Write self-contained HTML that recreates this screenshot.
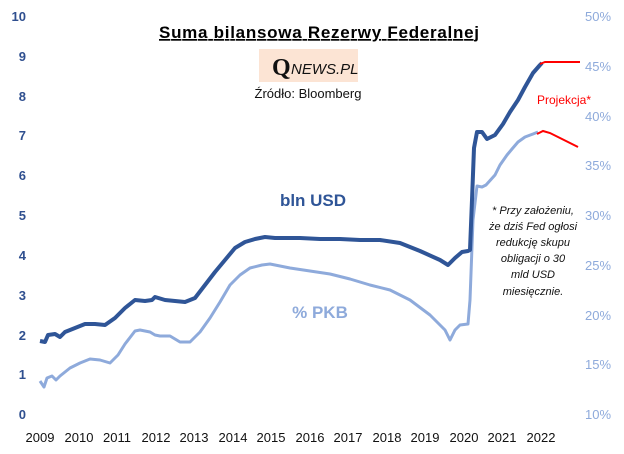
<!DOCTYPE html>
<html><head><meta charset="utf-8"><style>
body{margin:0;background:#fff}
svg{display:block;font-family:"Liberation Sans",sans-serif}
</style></head><body>
<svg width="624" height="454" viewBox="0 0 624 454">
<rect width="624" height="454" fill="#fff"/>
<text x="319" y="38" text-anchor="middle" font-size="17" font-weight="bold" text-decoration="underline" textLength="320">Suma bilansowa  Rezerwy Federalnej</text>
<rect x="259" y="49" width="99" height="33" fill="#fce4d4"/>
<text x="272" y="75" font-family="Liberation Serif,serif" font-size="24" font-weight="bold" fill="#111">Q</text>
<text x="291" y="74" font-size="15" font-style="italic" fill="#111">NEWS.PL</text>
<text x="308" y="98" text-anchor="middle" font-size="13" fill="#111">Źródło: Bloomberg</text>
<g font-size="13" font-weight="bold" fill="#2f4f8f" text-anchor="end">
<text x="26" y="21">10</text><text x="26" y="61">9</text><text x="26" y="101">8</text><text x="26" y="140">7</text><text x="26" y="180">6</text><text x="26" y="220">5</text><text x="26" y="260">4</text><text x="26" y="300">3</text><text x="26" y="340">2</text><text x="26" y="379">1</text><text x="26" y="419">0</text>
</g>
<g font-size="13" fill="#8eaadb" text-anchor="start">
<text x="585" y="21">50%</text><text x="585" y="71">45%</text><text x="585" y="121">40%</text><text x="585" y="170">35%</text><text x="585" y="220">30%</text><text x="585" y="270">25%</text><text x="585" y="320">20%</text><text x="585" y="369">15%</text><text x="585" y="419">10%</text>
</g>
<g font-size="13" fill="#111" text-anchor="middle">
<text x="40" y="442">2009</text><text x="79" y="442">2010</text><text x="117" y="442">2011</text><text x="156" y="442">2012</text><text x="194" y="442">2013</text><text x="233" y="442">2014</text><text x="271" y="442">2015</text><text x="310" y="442">2016</text><text x="348" y="442">2017</text><text x="387" y="442">2018</text><text x="425" y="442">2019</text><text x="464" y="442">2020</text><text x="502" y="442">2021</text><text x="541" y="442">2022</text>
</g>
<polyline fill="none" stroke="#8eaadb" stroke-width="3" stroke-linejoin="round" points="40,381 44,387 47,378 52,376 56,380 60,376 70,368 80,363 90,359 100,360 110,363 118,355 125,344 135,331 140,330 150,332 155,335 160,336 170,336 180,342 190,342 200,332 210,318 220,302 230,285 240,275 250,268 262,265 270,264 280,266 290,268 310,271 330,274 350,279 370,285 390,290 410,300 430,315 445,330 450,340 455,330 460,325 468,324 470,300 473,220 477,186 482,187 486,185 495,175 500,165 507,155 512,149 518,142 525,137 533,134 538,132"/>
<polyline fill="none" stroke="#2f5597" stroke-width="4" stroke-linejoin="round" points="40,341 45,342 48,335 55,334 60,337 65,332 75,328 85,324 95,324 105,325 115,318 125,308 135,300 145,301 152,300 155,297 165,300 175,301 185,302 195,298 205,285 215,272 225,260 235,248 245,242 255,239 265,237 275,238 285,238 300,238 320,239 340,239 360,240 380,240 400,243 420,251 440,260 448,265 455,258 462,252 468,251 470,250 472,200 474,148 477,132 482,132 487,139 495,135 503,124 510,112 518,100 525,87 533,73 540,65 542,63"/>
<polyline fill="none" stroke="#ff0000" stroke-width="2" points="540,64 545,62 580,62"/>
<polyline fill="none" stroke="#ff0000" stroke-width="2" points="537,134 543,131 550,133 560,138 570,143 578,147"/>
<text x="537" y="104" font-size="12" fill="#ff0000">Projekcja*</text>
<text x="313" y="206" text-anchor="middle" font-size="17" font-weight="bold" fill="#2f5597">bln USD</text>
<text x="320" y="318" text-anchor="middle" font-size="17" font-weight="bold" fill="#8eaadb">% PKB</text>
<g font-size="11" font-style="italic" fill="#111" text-anchor="middle">
<text x="533" y="214">* Przy założeniu,</text>
<text x="533" y="230">że dziś Fed ogłosi</text>
<text x="533" y="246">redukcję  skupu</text>
<text x="533" y="262">obligacji o 30</text>
<text x="533" y="278">mld USD</text>
<text x="533" y="295">miesięcznie.</text>
</g>
</svg>
</body></html>
